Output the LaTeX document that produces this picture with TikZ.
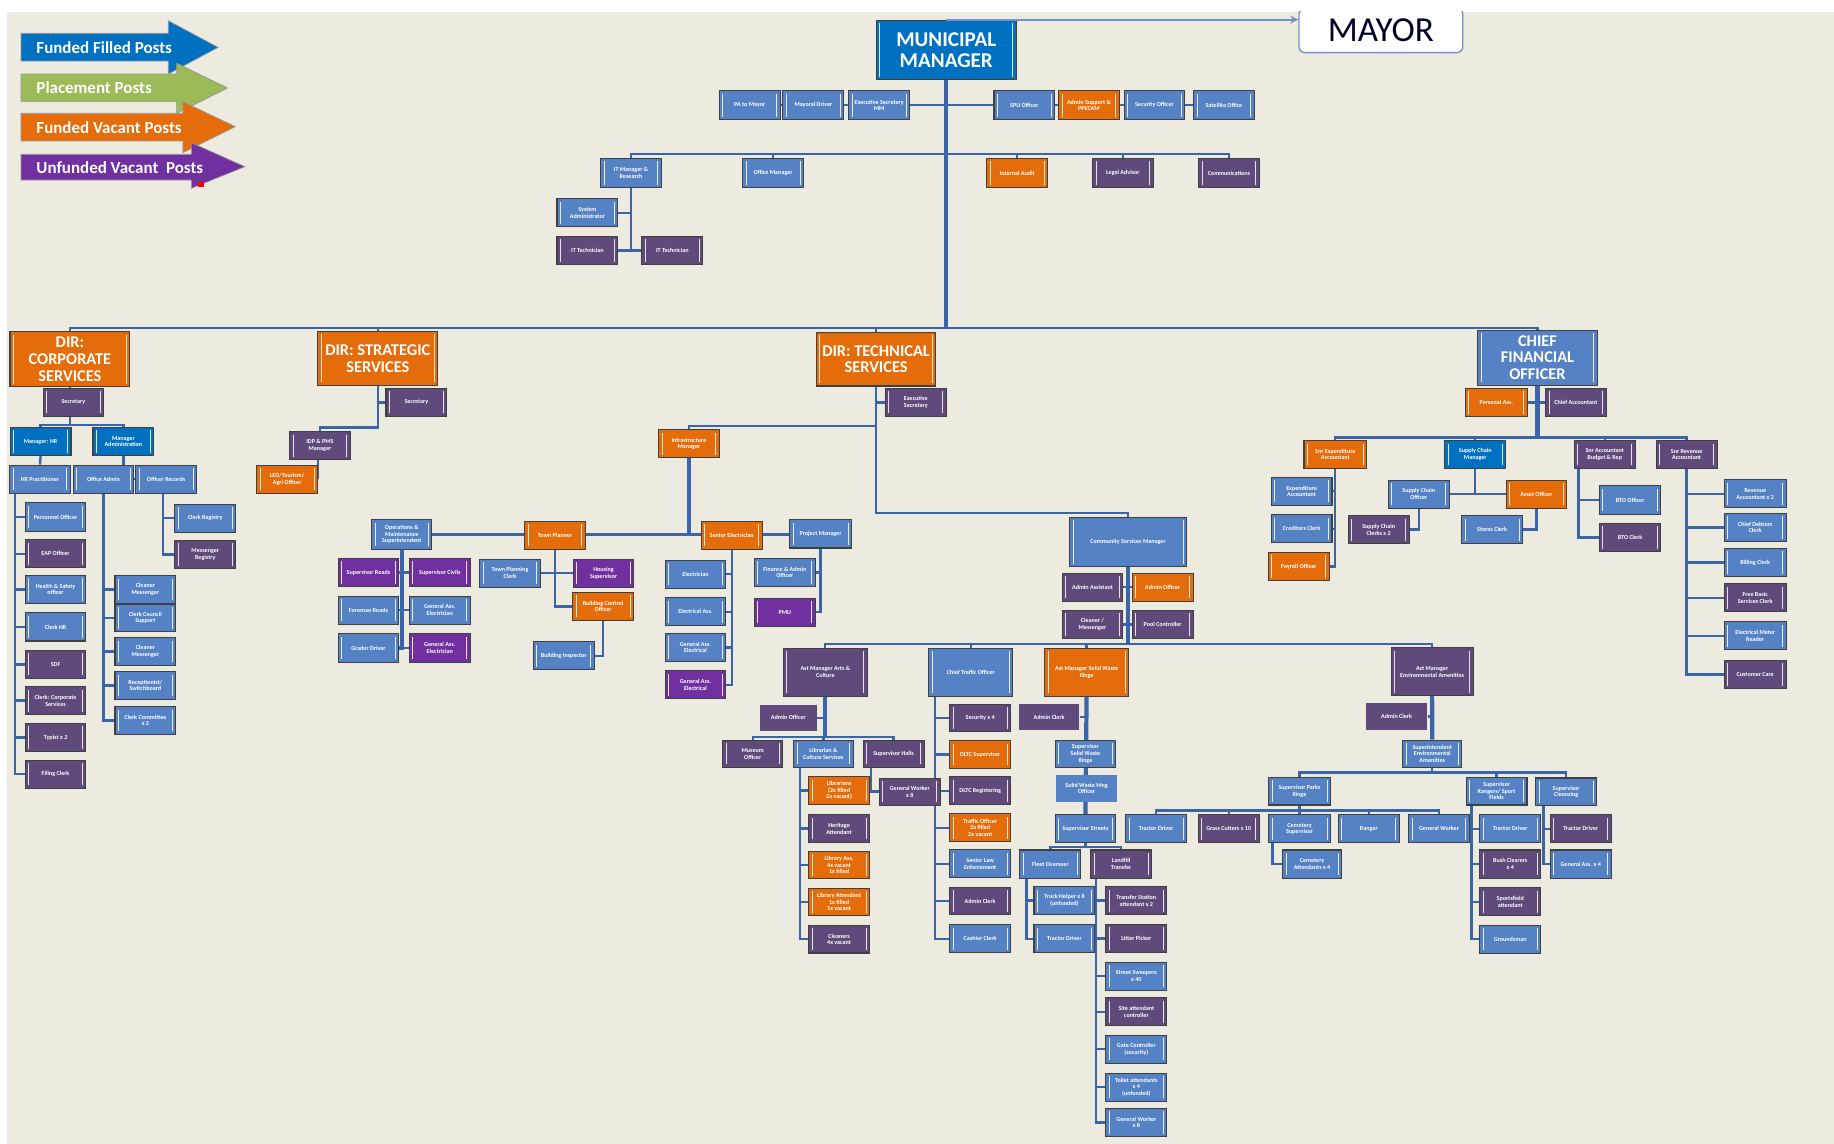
\documentclass[tikz,border=0pt]{standalone}
\usepackage{fontspec}
\setmainfont{Carlito}
\usetikzlibrary{arrows.meta,backgrounds}
\definecolor{paper}{RGB}{237,235,224}
\definecolor{ffblue}{RGB}{84,130,196}
\definecolor{fbblue}{RGB}{0,112,192}
\definecolor{fvorange}{RGB}{228,108,10}
\definecolor{uvpurple}{RGB}{96,74,123}
\definecolor{uppurple}{RGB}{112,48,160}
\definecolor{plgreen}{RGB}{155,187,89}
\definecolor{linec}{RGB}{58,101,168}
\definecolor{boxline}{RGB}{64,64,64}
\definecolor{mayorline}{RGB}{112,146,200}
\newcommand{\postfont}{\fontsize{5.2}{5.7}\selectfont\bfseries}
\newcommand{\dirfont}{\fontsize{14}{14.2}\selectfont\bfseries}
\newcommand{\mmfont}{\fontsize{18}{17.7}\selectfont\bfseries}
\newcommand{\keyfont}{\fontsize{14.5}{16}\selectfont\bfseries}
\newcommand{\mayorfont}{\fontsize{30}{32}\selectfont}

\begin{document}
\begin{tikzpicture}[x=1pt,y=-1pt,
   post/.style={draw=boxline,line width=0.9pt,minimum width=52pt,minimum height=24pt,inner sep=1pt,
      align=center,text=white,font=\postfont,
      path picture={\draw[white,line width=0.8pt,opacity=0.85] ([xshift=3pt,yshift=2.5pt]path picture bounding box.south west) -- ([xshift=3pt,yshift=-2.5pt]path picture bounding box.north west);
         \draw[white,line width=0.8pt,opacity=0.85] ([xshift=-3pt,yshift=2.5pt]path picture bounding box.south east) -- ([xshift=-3pt,yshift=-2.5pt]path picture bounding box.north east);}},
   ffpost/.style={post,fill=ffblue},
   fbpost/.style={post,fill=fbblue},
   fvpost/.style={post,fill=fvorange},
   uvpost/.style={post,fill=uvpurple},
   uppost/.style={post,fill=uppurple},
   plainbox/.style={draw=none,path picture={}},
   big/.style={font=\dirfont,minimum width=102pt,minimum height=46pt},
   link/.style={draw=linec,line width=2pt},
   trunk/.style={draw=linec,line width=3.6pt},
   keytext/.style={anchor=west,text=white,font=\keyfont,inner sep=0pt}]
   \begin{scope}[on background layer]
      \fill[white] (0,0) rectangle (1568,978);
      \fill[paper] (6,10) rectangle (1568,978);
   \end{scope}
   \useasboundingbox (0,0) rectangle (1568,978);

   \fill[fbblue,draw=black!40,line width=0.6pt] (18,28.5) -- (143.9,28.5) -- (143.9,17.7) -- (186.5,40.5) -- (143.9,63.3) -- (143.9,52.2) -- (18,52.2) -- cycle;
   \fill[plgreen,draw=black!40,line width=0.6pt] (18,63.3) -- (151.1,63.3) -- (151.1,54.1) -- (194.6,75.2) -- (151.1,96.9) -- (151.1,86.9) -- (18,86.9) -- cycle;
   \fill[fvorange,draw=black!40,line width=0.6pt] (18,96.9) -- (156.4,96.9) -- (156.4,86.9) -- (201.2,108.3) -- (156.4,130.5) -- (156.4,120.5) -- (18,120.5) -- cycle;
   \fill[uppurple,draw=black!40,line width=0.6pt] (18,131.9) -- (163.6,131.9) -- (163.6,122) -- (209.4,142.5) -- (163.6,161) -- (163.6,153.9) -- (18,153.9) -- cycle;
   \fill[red] (169.4,155.3) rectangle (174,160);
   \node (keyff) at (31,40.4) [keytext] {Funded Filled Posts};
   \node (keypl) at (31,75.1) [keytext] {Placement Posts};
   \node (keyfv) at (31,108.7) [keytext] {Funded Vacant Posts};
   \node (keyuv) at (31,142.9) [keytext] {Unfunded Vacant~ Posts};

   \node (mm) at (809,42.7) [fbpost,font=\mmfont,minimum width=120pt,minimum height=51pt] {MUNICIPAL\\MANAGER};
   \node (mayor) at (1180.6,26) [draw=mayorline,line width=1.2pt,fill=white,rounded corners=5pt,minimum width=140pt,minimum height=38pt,font=\mayorfont,text=black!85!blue] {MAYOR};

   \node (pamayor) at (641,90) [ffpost,minimum height=25pt] {PA to Mayor};
   \node (mdriver) at (695.4,90) [ffpost,minimum height=25pt] {Mayoral Driver};
   \node (exsecmm) at (751.7,90) [ffpost,minimum height=25pt] {Executive Secretary\\MM};
   \node (spu) at (875.8,90) [ffpost,minimum height=25pt] {SPU Officer};
   \node (adminppc) at (931,90) [fvpost,minimum height=25pt] {Admin Support \&\\PPECAM};
   \node (secoff) at (987,90) [ffpost,minimum height=25pt] {Security Officer};
   \node (satoff) at (1046.4,90) [ffpost,minimum height=25pt] {Satellite Office};

   \node (itmgr) at (539.5,148) [ffpost,minimum height=25pt] {IT Manager \&\\Research};
   \node (offmgr) at (661,148) [ffpost,minimum height=25pt] {Office Manager};
   \node (intaudit) at (869.7,148) [fvpost,minimum height=25pt] {Internal Audit};
   \node (legal) at (960,148) [uvpost,minimum height=25pt] {Legal Advisor};
   \node (comms) at (1050.7,148) [uvpost,minimum height=25pt] {Communications};
   \node (sysadmin) at (502.2,182) [ffpost] {System\\Administrator};
   \node (ittech1) at (502.2,214.2) [uvpost] {IT Technician};
   \node (ittech2) at (574.8,214.2) [uvpost] {IT Technician};

   \node (dircs) at (59.8,307.1) [fvpost,big,minimum width=102.5pt,minimum height=47pt] {DIR:\\CORPORATE\\SERVICES};
   \node (dirss) at (323,306.4) [fvpost,big,minimum width=102.5pt] {DIR: STRATEGIC\\SERVICES};
   \node (dirts) at (749,307) [fvpost,big] {DIR: TECHNICAL\\SERVICES};
   \node (cfo) at (1314.5,305.7) [ffpost,big,minimum height=47pt] {CHIEF\\FINANCIAL\\OFFICER};

   \node (cssec) at (62.8,344) [uvpost] {Secretary};
   \node (mgrhr) at (34.7,377.5) [fbpost] {Manager: HR};
   \node (mgradm) at (105.5,377.5) [fbpost] {Manager\\Administration};
   \node (hrprac) at (34.2,409.6) [ffpost] {HR Practitioner};
   \node (offadmin) at (88.5,409.6) [ffpost] {Office Admin};
   \node (offrec) at (142,409.6) [ffpost] {Officer Records};
   \node (persoff) at (47.5,442) [ffpost] {Personnel Officer};
   \node (eapoff) at (47.5,473.5) [uvpost] {EAP Officer};
   \node (safetyoff) at (47.5,504) [ffpost] {Health \& Safety\\officer};
   \node (clerkhr) at (47.5,536) [ffpost] {Clerk HR};
   \node (sdf) at (47.5,568) [uvpost] {SDF};
   \node (clerkcs) at (47.5,599) [uvpost] {Clerk: Corporate\\Services};
   \node (typist) at (47.5,630.5) [uvpost] {Typist x 2};
   \node (filing) at (47.5,662) [uvpost] {Filing Clerk};
   \node (cleaner1) at (124.3,504) [ffpost,minimum height=23.5pt] {Cleaner\\Messenger};
   \node (clcouncil) at (124.3,528.3) [ffpost,minimum height=23.5pt] {Clerk Council\\Support};
   \node (cleaner2) at (124.3,557) [ffpost,minimum height=23.5pt] {Cleaner\\Messenger};
   \node (recept) at (124.3,586) [ffpost,minimum height=23.5pt] {Receptionist/\\Switchboard};
   \node (clcommittee) at (124.3,616) [ffpost,minimum height=23.5pt] {Clerk Committee\\x 2};
   \node (clregistry) at (175.5,443) [ffpost] {Clerk Registry};
   \node (msgregistry) at (175.5,474) [uvpost] {Messenger\\Registry};

   \node (sssec) at (356,344) [uvpost] {Secretary};
   \node (idp) at (273.5,381) [uvpost] {IDP \& PMS\\Manager};
   \node (led) at (245.5,409.7) [fvpost] {LED/Tourism/\\Agri Officer};

   \node (tssec) at (783,344) [uvpost] {Executive\\Secretary};
   \node (infra) at (589,379.5) [fvpost] {Infrastructure\\Manager};
   \node (ops) at (343.5,457) [ffpost,minimum width=51pt,minimum height=25pt] {Operations \&\\Maintenance\\Superintendent};
   \node (townp) at (474.5,457.5) [fvpost] {Town Planner};
   \node (snrelec) at (625.6,457.5) [fvpost] {Senior Electrician};
   \node (projmgr) at (701.5,456.5) [ffpost,minimum width=53pt] {Project Manager};
   \node (suproads) at (315,489.5) [uppost] {Supervisor Roads};
   \node (supcivil) at (376,489.5) [uppost] {Supervisor Civils};
   \node (foreroads) at (315,521.7) [ffpost] {Foreman Roads};
   \node (genelec1) at (376,521.7) [ffpost] {General Ass.\\Electrician};
   \node (grader) at (315,554) [ffpost] {Grader Driver};
   \node (genelec2) at (376,554) [uppost] {General Ass.\\Electrician};
   \node (tpclerk) at (436,490) [ffpost] {Town Planning\\Clerk};
   \node (housing) at (516,490) [uppost] {Housing\\Supervisor};
   \node (bco) at (515.6,518.4) [fvpost] {Building Control\\Officer};
   \node (binsp) at (482,560.7) [ffpost] {Building Inspector};
   \node (elec) at (594.6,491) [ffpost] {Electrician};
   \node (elecass) at (594.6,523) [ffpost] {Electrical Ass.};
   \node (genass1) at (594.6,553.6) [ffpost] {General Ass.\\Electrical};
   \node (genass2) at (594.6,585.5) [uppost] {General Ass.\\Electrical};
   \node (finadmin) at (671,489.5) [ffpost] {Finance \& Admin\\Officer};
   \node (pmu) at (671,523.4) [uppost] {PMU};

   \node (csm) at (964.4,463.4) [ffpost,minimum width=100pt,minimum height=42pt] {Community Services Manager};
   \node (adminasst) at (934,502) [uvpost] {Admin Assistant};
   \node (adminoff2) at (994,502) [fvpost] {Admin Officer};
   \node (cleanermsg) at (934,534) [uvpost] {Cleaner /\\Messenger};
   \node (poolctl) at (994,534) [uvpost] {Pool Controller};
   \node (asmarts) at (705.6,574.6) [uvpost,minimum width=72pt,minimum height=41pt] {Ast Manager Arts \&\\Culture};
   \node (chieftraffic) at (830,574.6) [ffpost,minimum width=72pt,minimum height=41pt] {Chief Traffic Officer};
   \node (asmsolid) at (929,574.6) [fvpost,minimum width=72pt,minimum height=41pt] {Ast Manager Solid Waste\\Ilinge};
   \node (asmenv) at (1224.4,574.3) [uvpost,minimum width=70pt,minimum height=41pt] {Ast Manager\\Environmental Amenities};

   \node (artsadmin) at (674,613.6) [uvpost,plainbox,minimum width=48.5pt,minimum height=22pt] {Admin Officer};
   \node (museum) at (643.5,644.6) [uvpost,minimum width=51pt,minimum height=23pt] {Museum\\Officer};
   \node (librcult) at (704,644.6) [ffpost,minimum width=51pt,minimum height=23pt] {Librarian \&\\Culture Services};
   \node (suphalls) at (764,644.6) [uvpost,minimum height=23pt] {Supervisor Halls};
   \node (librarians) at (717.4,675.7) [fvpost,minimum height=23.5pt] {Librarians\\(2x filled\\2x vacant)};
   \node (heritage) at (717.4,708.4) [uvpost,minimum height=23.5pt] {Heritage\\Attendant};
   \node (libass) at (717.4,739.7) [fvpost,minimum height=23.5pt] {Library Ass.\\4x vacant\\1x filled};
   \node (libatt) at (717.4,771.2) [fvpost,minimum height=23.5pt] {Library Attendant\\1x filled\\1x vacant};
   \node (cleaners) at (717.4,803) [uvpost,minimum height=23.5pt] {Cleaners\\4x vacant};
   \node (genwork8) at (777.8,676.8) [uvpost,minimum height=23pt] {General Worker\\x 8};

   \node (security) at (838,613.8) [uvpost,minimum height=23.6pt] {Security x 4};
   \node (dltcsup) at (838,645) [fvpost,minimum height=23.6pt] {DLTC Supervisor};
   \node (dltcreg) at (838,676) [uvpost,minimum height=23.6pt] {DLTC Registering};
   \node (trafficoff) at (838,707.7) [fvpost,minimum height=23.6pt] {Traffic Officer\\2x filled\\2x vacant};
   \node (lawenf) at (838,738.4) [ffpost,minimum height=23.6pt] {Senior Law\\Enforcement};
   \node (trafadmin) at (838,770.4) [uvpost,minimum height=23.6pt] {Admin Clerk};
   \node (cashier) at (838,802.6) [ffpost,minimum height=23.6pt] {Cashier Clerk};

   \node (swadmin) at (897,613) [uvpost,plainbox,minimum width=51pt,minimum height=22pt] {Admin Clerk};
   \node (supsw) at (928,644.6) [ffpost,minimum width=51.5pt,minimum height=23pt] {Supervisor\\Solid Waste\\Ilinge};
   \node (swmo) at (929,674) [ffpost,plainbox,minimum height=23pt] {Solid Waste Mng\\Officer};
   \node (supstreet) at (928,708.5) [ffpost,minimum height=23.7pt] {Supervisor Streets};
   \node (fleet) at (898,738.7) [ffpost] {Fleet Overseer};
   \node (landfill) at (958.5,738.7) [uvpost] {Landfill\\Transfer};
   \node (truckhelp) at (910,770) [ffpost] {Truck Helper x 8\\(unfunded)};
   \node (tractor2) at (910,802.6) [ffpost] {Tractor Driver};
   \node (transfer) at (971.5,770) [uvpost] {Transfer Station\\attendant x 2};
   \node (litter) at (971.5,802.4) [uvpost] {Litter Picker};
   \node (sweepers) at (971.5,834.5) [ffpost] {Street Sweepers\\x 40};
   \node (siteatt) at (971.5,865) [uvpost] {Site attendant\\controller};
   \node (gatectl) at (971.5,897) [ffpost] {Gate Controller\\(security)};
   \node (toilet) at (971.5,929.5) [ffpost] {Toilet attendants\\x 4\\(unfunded)};
   \node (genwork9) at (971.5,959.6) [ffpost] {General Worker\\x 8};

   \node (envadmin) at (1194,612.7) [uvpost,plainbox,minimum height=23pt] {Admin Clerk};
   \node (supenv) at (1224.5,644.5) [ffpost,minimum width=50.4pt,minimum height=23.6pt] {Superintendent\\Environmental\\Amenities};
   \node (supparks) at (1111,676.4) [ffpost,minimum width=53pt,minimum height=23.7pt] {Supervisor Parks\\Ilinge};
   \node (suprangers) at (1279.5,676.4) [ffpost,minimum height=23.7pt] {Supervisor\\Rangers/ Sport\\Fields};
   \node (supclean) at (1339,677) [ffpost,minimum height=23.7pt] {Supervisor\\Cleansing};
   \node (tractor3) at (988.5,708.6) [ffpost,minimum height=23.7pt] {Tractor Driver};
   \node (grasscut) at (1050.5,708.6) [uvpost,minimum height=23.7pt] {Grass Cutters x 10};
   \node (cemsup) at (1111,708.6) [ffpost,minimum width=53pt,minimum height=23.7pt] {Cemetery\\Supervisor};
   \node (ranger) at (1170.3,708.6) [ffpost,minimum height=23.7pt] {Ranger};
   \node (genworkenv) at (1230.3,708.6) [ffpost,minimum height=23.7pt] {General Worker};
   \node (cematt) at (1121.8,738.7) [ffpost,minimum width=50.3pt] {Cemetery\\Attendants x 4};
   \node (tractor4) at (1291.2,708.6) [ffpost,minimum height=23.7pt] {Tractor Driver};
   \node (bushclear) at (1291.2,738.7) [uvpost] {Bush Clearers\\x 4};
   \node (sportsatt) at (1291.2,771) [uvpost] {Sportsfield\\attendant};
   \node (groundsman) at (1291.2,803) [ffpost] {Groundsman};
   \node (tractor5) at (1351.5,708.6) [uvpost,minimum height=23.7pt] {Tractor Driver};
   \node (genass4) at (1351.5,738.7) [ffpost] {General Ass. x 4};

   \node (pa) at (1279.3,344.1) [fvpost,minimum width=53pt] {Personal Ass.};
   \node (chiefacc) at (1347.3,344.1) [uvpost] {Chief Accountant};
   \node (snrexp) at (1141.6,388.6) [fvpost,minimum width=53.5pt,minimum height=23.6pt] {Snr Expenditure\\Accountant};
   \node (scm) at (1261.3,388.6) [fbpost,minimum height=23.6pt] {Supply Chain\\Manager};
   \node (snrbud) at (1372,388.6) [uvpost,minimum height=23.6pt] {Snr Accountant\\Budget \& Rep};
   \node (snrrev) at (1442,388.6) [uvpost,minimum height=23.6pt] {Snr Revenue\\Accountant};
   \node (expacc) at (1112.8,420) [ffpost] {Expenditure\\Accountant};
   \node (credclerk) at (1112.8,452.1) [ffpost] {Creditors Clerk};
   \node (payroll) at (1110.4,484.4) [fvpost] {Payroll Officer};
   \node (sco) at (1213,422.5) [ffpost] {Supply Chain\\Officer};
   \node (asset) at (1313.6,422.5) [fvpost] {Asset Officer};
   \node (scclerk) at (1178.7,452.8) [uvpost] {Supply Chain\\Clerks x 2};
   \node (stores) at (1275.7,452.8) [ffpost] {Stores Clerk};
   \node (btooff) at (1393.7,427.4) [ffpost,minimum width=52.6pt,minimum height=24.5pt] {BTO Officer};
   \node (btoclerk) at (1393.7,459.5) [uvpost,minimum width=52.6pt,minimum height=24.5pt] {BTO Clerk};
   \node (revacc) at (1500.6,422.2) [ffpost,minimum width=53pt] {Revenue\\Accountant x 2};
   \node (debtors) at (1500.6,451) [ffpost,minimum width=53pt] {Chief Debtors\\Clerk};
   \node (billing) at (1500.6,481) [ffpost,minimum width=53pt] {Billing Clerk};
   \node (fbs) at (1500.6,511.1) [uvpost,minimum width=53pt] {Free Basic\\Services Clerk};
   \node (meter) at (1500.6,543.6) [ffpost,minimum width=53pt] {Electrical Meter\\Reader};
   \node (custcare) at (1500.6,576.7) [uvpost,minimum width=53pt] {Customer Care};

   \coordinate (busmm) at (809,131.7);
   \coordinate (busdir) at (809,280.6);
   \coordinate (buscs) at (59.8,363.3);
   \coordinate (buscsm) at (964.4,550.6);
   \coordinate (busarts) at (705.6,630.3);
   \coordinate (busstr) at (928,724);
   \coordinate (busenv) at (1224.5,660.3);
   \coordinate (busparks) at (1111,693);
   \coordinate (buscfo) at (1314.5,373.9);

   \begin{scope}[on background layer]
      \draw[trunk] (mm.south) -- (busdir);
      \draw[link] (pamayor.east) -- (mdriver.west);
      \draw[link] (mdriver.east) -- (exsecmm.west);
      \draw[link] (exsecmm.east) -- (spu.west);
      \draw[link] (spu.east) -- (adminppc.west);
      \draw[link] (adminppc.east) -- (secoff.west);
      \draw[link] (secoff.east) -- (satoff.west);
      \foreach \n in {itmgr,offmgr,intaudit,legal,comms} \draw[link] (busmm) -| (\n.north);
      \draw[link] (itmgr.south) |- (ittech1.east);
      \draw[link] (sysadmin.east) -- (sysadmin.east -| itmgr.south);
      \draw[link] (ittech2.west) -- (ittech2.west -| itmgr.south);
      \foreach \n in {dircs,dirss,dirts,cfo} \draw[link] (busdir) -| (\n.north);

      \draw[link] (dircs.south) -- (buscs);
      \draw[link] (buscs) -| (mgrhr.north);
      \draw[link] (buscs) -| (mgradm.north);
      \draw[link] (mgrhr.south) -- (hrprac.north);
      \draw[link] (mgradm.south) -- (mgradm.south |- offadmin.north);
      \draw[link] (offadmin.east) -- (offrec.west);
      \foreach \n in {persoff,eapoff,safetyoff,clerkhr,sdf,clerkcs,typist,filing} \draw[link] ([xshift=5pt]hrprac.south west) |- (\n.west);
      \foreach \n in {cleaner1,clcouncil,cleaner2,recept,clcommittee} \draw[link] (offadmin.south) |- (\n.west);
      \foreach \n in {clregistry,msgregistry} \draw[link] ([xshift=-2.5pt]offrec.south) |- (\n.west);

      \draw[link] (dirss.south) -- (dirss.south |- 0,365.4) -| (idp.north);
      \draw[link] (sssec.west) -- (sssec.west -| dirss.south);
      \draw[link] (idp.south -| led.east) -- (led.east);

      \draw[link] (dirts.south) |- ([yshift=3.4pt]csm.north) -- (csm.north);
      \draw[link] (tssec.west) -- (tssec.west -| dirts.south);
      \draw[link] (dirts.south |- 0,364.2) -| (infra.north);
      \draw[trunk] (infra.south) -- (infra.south |- ops.east);
      \draw[link] (ops.east) -- (ops.east -| projmgr.west);
      \draw[trunk] (ops.south) |- (grader.east);
      \foreach \n in {suproads,foreroads} \draw[link] (\n.east) -- (\n.east -| ops.south);
      \foreach \n in {supcivil,genelec1,genelec2} \draw[link] (\n.west) -- (\n.west -| ops.south);
      \draw[link] (townp.south) |- (bco.west);
      \draw[link] (tpclerk.east) -- (housing.west);
      \draw[link] (bco.south) |- (binsp.east);
      \foreach \n in {elec,elecass,genass1,genass2} \draw[link] (snrelec.south) |- (\n.east);
      \foreach \n in {finadmin,pmu} \draw[link] (projmgr.south) |- (\n.east);

      \draw[trunk] (csm.south) -- (buscsm);
      \draw[link] (adminasst.east) -- (adminoff2.west);
      \draw[link] (cleanermsg.east) -- (poolctl.west);
      \foreach \n in {asmarts,chieftraffic,asmsolid,asmenv} \draw[link] (buscsm) -| (\n.north);
      \draw[trunk] (asmarts.south) -- (busarts);
      \draw[link] (artsadmin.east) -- (artsadmin.east -| asmarts.south);
      \foreach \n in {museum,librcult,suphalls} \draw[link] (busarts) -| (\n.north);
      \foreach \n in {librarians,heritage,libass,libatt,cleaners} \draw[link] ([xshift=6pt]librcult.south west) |- (\n.west);
      \draw[link] ([xshift=7pt]suphalls.south west) |- (genwork8.west);
      \foreach \n in {security,dltcsup,dltcreg,trafficoff,lawenf,trafadmin,cashier} \draw[link] ([xshift=6pt]chieftraffic.south west) |- (\n.west);
      \draw[trunk] (asmsolid.south) -- (supstreet.north);
      \draw[link] (swadmin.east) -- (swadmin.east -| asmsolid.south);
      \draw[link] (supstreet.south) -- (busstr);
      \draw[link] (busstr) -| (fleet.north);
      \draw[link] (busstr) -| (landfill.north);
      \foreach \n in {truckhelp,tractor2} \draw[link] ([xshift=6pt]fleet.south west) |- (\n.west);
      \foreach \n in {transfer,litter,sweepers,siteatt,gatectl,toilet,genwork9} \draw[link] ([xshift=5pt]landfill.south west) |- (\n.west);
      \draw[trunk] (asmenv.south) -- (supenv.north);
      \draw[link] (envadmin.east) -- (envadmin.east -| asmenv.south);
      \draw[link] (supenv.south) -- (busenv);
      \foreach \n in {supparks,suprangers,supclean} \draw[link] (busenv) -| (\n.north);
      \draw[link] (supparks.south) -- (busparks);
      \foreach \n in {tractor3,grasscut,cemsup,ranger,genworkenv} \draw[link] (busparks) -| (\n.north);
      \draw[link] ([xshift=4pt]cemsup.south west) |- (cematt.west);
      \foreach \n in {tractor4,bushclear,sportsatt,groundsman} \draw[link] ([xshift=5pt]suprangers.south west) |- (\n.west);
      \foreach \n in {tractor5,genass4} \draw[link] ([xshift=7pt]supclean.south west) |- (\n.west);

      \draw[trunk] (cfo.south) -- (buscfo);
      \draw[link] (pa.east) -- (chiefacc.west);
      \foreach \n in {snrexp,scm,snrbud,snrrev} \draw[link] (buscfo) -| (\n.north);
      \foreach \n in {expacc,credclerk,payroll} \draw[link] (snrexp.south) |- (\n.east);
      \draw[link] (scm.south) -- (scm.south |- sco.east);
      \draw[link] (sco.east) -- (asset.west);
      \draw[link] (sco.south) |- (scclerk.east);
      \draw[link] (asset.south) |- (stores.east);
      \foreach \n in {btooff,btoclerk} \draw[link] ([xshift=4pt]snrbud.south west) |- (\n.west);
      \foreach \n in {revacc,debtors,billing,fbs,meter,custcare} \draw[link] (snrrev.south) |- (\n.west);
   \end{scope}

   \draw[mayorline,line width=1.8pt,-{Stealth[length=7pt,width=7pt]}] (mm.north) -- (mm.north -| mayor.west);
   \fill[white] (0,0) rectangle (1568,9.5);
\end{tikzpicture}
\end{document}
